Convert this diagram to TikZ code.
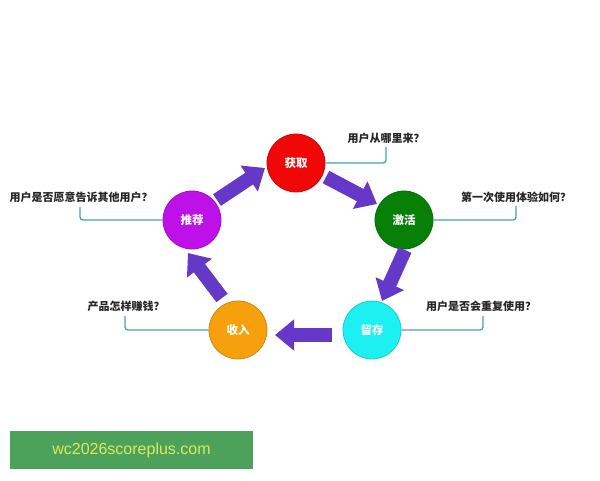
\documentclass[tikz,border=0pt]{standalone}
\usepackage{fontspec}
\newfontfamily\cjk{Noto Sans CJK SC}
\newfontfamily\wmfont{Liberation Sans}
\usetikzlibrary{arrows.meta}
\definecolor{arrowpurple}{RGB}{102,56,200}
\definecolor{callteal}{RGB}{74,160,182}
\definecolor{cred}{RGB}{240,8,8}
\definecolor{cgreen}{RGB}{8,128,8}
\definecolor{ccyan}{RGB}{28,240,240}
\definecolor{corange}{RGB}{245,160,12}
\definecolor{cpurple}{RGB}{190,16,232}
\definecolor{wmgreen}{RGB}{76,162,90}
\definecolor{wmtext}{RGB}{222,232,96}
\begin{document}
\begin{tikzpicture}[x=1pt,y=-1pt,
  stage/.style={circle,minimum size=58pt,inner sep=0pt,line width=0.8pt,
    text=white,font=\cjk\bfseries\fontsize{11.5}{13}\selectfont},
  qlabel/.style={inner sep=0pt,text=black!85,font=\cjk\bfseries\fontsize{11}{13}\selectfont},
  callout/.style={draw=callteal,line width=1.3pt,rounded corners=3pt},
  blockarrow/.style={draw=arrowpurple,line width=14pt,line cap=butt,
    -{Triangle[width=30pt,length=19pt]}}]
\useasboundingbox (0,0) rectangle (600,480);
% stages
\node[stage,fill=cred,draw=cred!85!black] (huo) at (296,163) {获取};
\node[stage,fill=cgreen,draw=cgreen!85!black] (ji) at (404,220) {激活};
\node[stage,fill=ccyan,draw=ccyan!85!black] (liu) at (372,330) {留存};
\node[stage,fill=corange,draw=corange!85!black] (shou) at (238,330) {收入};
\node[stage,fill=cpurple,draw=cpurple!85!black] (tui) at (192,220) {推荐};
% question labels
\node[qlabel] (q1) at (386,138) {用户从哪里来？};
\node[qlabel] (q2) at (516,197) {第一次使用体验如何？};
\node[qlabel] (q3) at (481,306) {用户是否会重复使用？};
\node[qlabel] (q4) at (126,306) {产品怎样赚钱？};
\node[qlabel] (q5) at (81,197) {用户是否愿意告诉其他用户？};
% callout ends
\coordinate (c1) at (386,147);
\coordinate (c2) at (516,206);
\coordinate (c3) at (483,316);
\coordinate (c4) at (125,316);
\coordinate (c5) at (80,207);
\draw[callout] (huo.east) -| (c1);
\draw[callout] (ji.east) -| (c2);
\draw[callout] (liu.east) -| (c3);
\draw[callout] (shou.west) -| (c4);
\draw[callout] (tui.west) -| (c5);
% arrow ends
\coordinate (a1s) at (217,200); \coordinate (a1e) at (265,168);
\coordinate (a2s) at (326,177); \coordinate (a2e) at (377,204);
\coordinate (a3s) at (405,250); \coordinate (a3e) at (382,301);
\coordinate (a4s) at (332,335); \coordinate (a4e) at (275,335);
\coordinate (a5s) at (222,298); \coordinate (a5e) at (188,253);
\draw[blockarrow] (a1s) -- (a1e);
\draw[blockarrow] (a2s) -- (a2e);
\draw[blockarrow] (a3s) -- (a3e);
\draw[blockarrow] (a4s) -- (a4e);
\draw[blockarrow] (a5s) -- (a5e);
% watermark
\node[fill=wmgreen,minimum width=243pt,minimum height=38pt,inner sep=0pt,
  text=wmtext,font=\wmfont\fontsize{16}{18}\selectfont] (wm) at (131.5,450) {wc2026scoreplus.com};
\end{tikzpicture}
\end{document}
